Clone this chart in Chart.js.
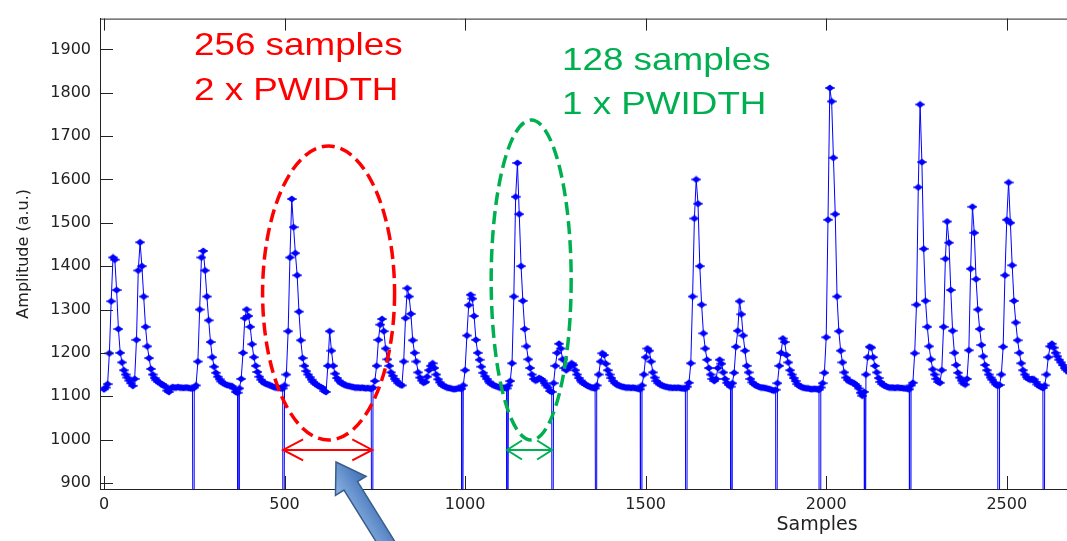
<!DOCTYPE html>
<html>
<head>
<meta charset="utf-8">
<title>Pulse width window</title>
<script src="https://cdn.jsdelivr.net/npm/chart.js@4.4.1/dist/chart.umd.min.js"></script>
<style>
  html, body { margin: 0; padding: 0; background: #fff; overflow: hidden; }
  #wrap { position: relative; width: 1545px; height: 541px; }
</style>
</head>
<body>
<div id="wrap"><canvas id="myChart"></canvas></div>
<script>

// detector readout, one value every 5 samples starting at sample 0
const sampleStep = 5;
const amplitude = [
    1116, 1120, 1128, 1199, 1319, 1420, 1415, 1345, 1255, 1200, 1178, 1160, 1150, 1143, 1136, 1130, 1124, 1140, 1230, 1390,
    1455, 1400, 1330, 1260, 1215, 1188, 1163, 1150, 1142, 1137, 1133, 1130, 1128, 1125, 1122, 1113, 1110, 1118, 1121, 1120,
    1120, 1121, 1120, 1120, 1119, 1120, 1120, 1119, 1118, 1118, 1120, 1125, 1180, 1300, 1420, 1435, 1390, 1330, 1275, 1225,
    1190, 1168, 1154, 1145, 1139, 1134, 1130, 1128, 1126, 1125, 1124, 1123, 1118, 1110, 1108, 1118, 1140, 1200, 1280, 1300,
    1285, 1260, 1220, 1190, 1170, 1156, 1145, 1138, 1133, 1130, 1128, 1127, 1125, 1123, 1121, 1120, 1120, 1119, 1118, 1118,
    1125, 1150, 1250, 1420, 1555, 1490, 1430, 1379, 1295, 1229, 1188, 1170, 1158, 1150, 1144, 1138, 1133, 1129, 1126, 1123,
    1121, 1119, 1112, 1110, 1170, 1250, 1205, 1170, 1152, 1142, 1136, 1132, 1129, 1127, 1125, 1124, 1123, 1122, 1121, 1120,
    1120, 1120, 1119, 1120, 1119, 1118, 1119, 1118, 1117, 1120, 1135, 1170, 1230, 1265, 1278, 1250, 1210, 1185, 1170, 1155,
    1147, 1140, 1135, 1130, 1127, 1125, 1180, 1280, 1349, 1330, 1290, 1229, 1200, 1180, 1155, 1143, 1136, 1131, 1133, 1145,
    1160, 1170, 1176, 1165, 1150, 1139, 1132, 1127, 1124, 1122, 1120, 1119, 1118, 1117, 1116, 1117, 1118, 1118, 1117, 1125,
    1160, 1240, 1310, 1334, 1325, 1285, 1230, 1200, 1184, 1168, 1154, 1146, 1140, 1134, 1130, 1127, 1125, 1123, 1122, 1120,
    1120, 1119, 1119, 1118, 1125, 1135, 1176, 1330, 1560, 1638, 1520, 1400, 1320, 1255, 1215, 1185, 1165, 1150, 1140, 1136,
    1138, 1142, 1140, 1136, 1130, 1125, 1120, 1112, 1110, 1130, 1170, 1200, 1221, 1210, 1185, 1165, 1160, 1165, 1170, 1176,
    1172, 1160, 1150, 1142, 1136, 1132, 1129, 1126, 1124, 1122, 1120, 1119, 1118, 1125, 1150, 1180, 1199, 1195, 1175, 1160,
    1150, 1142, 1135, 1130, 1127, 1125, 1123, 1122, 1121, 1120, 1120, 1120, 1119, 1120, 1119, 1118, 1117, 1116, 1125, 1150,
    1190, 1210, 1205, 1180, 1155, 1143, 1135, 1130, 1127, 1125, 1123, 1122, 1121, 1120, 1120, 1119, 1120, 1119, 1120, 1119,
    1118, 1118, 1117, 1122, 1131, 1176, 1330, 1510, 1600, 1544, 1400, 1311, 1245, 1210, 1184, 1165, 1150, 1140, 1135, 1140,
    1165, 1184, 1175, 1155, 1140, 1131, 1126, 1122, 1130, 1154, 1214, 1251, 1319, 1289, 1240, 1205, 1170, 1155, 1140, 1132,
    1128, 1125, 1123, 1121, 1120, 1120, 1119, 1118, 1117, 1116, 1114, 1113, 1115, 1130, 1170, 1200, 1233, 1225, 1195, 1178,
    1160, 1150, 1142, 1135, 1128, 1124, 1122, 1120, 1119, 1118, 1118, 1117, 1116, 1117, 1117, 1116, 1115, 1120, 1130, 1154,
    1236, 1507, 1811, 1780, 1650, 1520, 1330, 1250, 1205, 1178, 1155, 1143, 1137, 1134, 1132, 1131, 1128, 1124, 1118, 1108,
    1101, 1110, 1150, 1190, 1214, 1212, 1190, 1170, 1155, 1142, 1133, 1128, 1125, 1123, 1121, 1120, 1120, 1120, 1119, 1120,
    1120, 1119, 1119, 1118, 1118, 1117, 1116, 1125, 1131, 1199, 1311, 1582, 1773, 1640, 1440, 1320, 1260, 1215, 1185, 1162,
    1150, 1140, 1133, 1131, 1160, 1260, 1417, 1503, 1454, 1345, 1251, 1200, 1172, 1154, 1143, 1136, 1130, 1127, 1140, 1206,
    1394, 1537, 1477, 1370, 1300, 1255, 1218, 1192, 1172, 1160, 1150, 1143, 1138, 1132, 1127, 1124, 1126, 1150, 1214, 1379,
    1507, 1593, 1500, 1402, 1320, 1270, 1229, 1200, 1176, 1160, 1150, 1144, 1140, 1138, 1140, 1139, 1133, 1127, 1124, 1121,
    1119, 1125, 1150, 1190, 1215, 1221, 1212, 1200, 1192, 1184, 1178, 1172, 1165, 1161, 1157, 1153, 1150
];

// trigger dropouts [first sample, last sample]: the readout falls to zero there
const dropouts = [
    [249, 249], [371, 374], [496, 496], [743, 743], [991, 991], [1116, 1116],
    [1241, 1241], [1364, 1364], [1486, 1489], [1613, 1613], [1736, 1739],
    [1861, 1861], [1981, 1984], [2107, 2107], [2231, 2234], [2476, 2479], [2603, 2603]
];
const dropLevel = 0;

const xTickValues = [0, 500, 1000, 1500, 2000, 2500, 3000, 3500];
const yTickValues = [900, 1000, 1100, 1200, 1300, 1400, 1500, 1600, 1700, 1800, 1900];

// the two windows that get marked: [from sample, to sample]
const wideWindow = [496, 743];
const narrowWindow = [1116, 1241];

const axisColor = '#222222';
const traceColor = '#0000ff';
const tickFont = { family: '"DejaVu Sans"', size: 16 };

function buildPoints() {
    const pts = amplitude.map((v, i) => ({ x: i * sampleStep, y: v }));
    dropouts.forEach(([a, b]) => {
        pts.push({ x: a, y: dropLevel });
        pts.push({ x: b, y: dropLevel });
    });
    pts.sort((p, q) => p.x - q.x);
    return pts;
}

// flat diamond with a crossbar, like the 'd' marker of the original plot
function makeMarker() {
    const c = document.createElement('canvas');
    c.width = 10;
    c.height = 8;
    const g = c.getContext('2d');
    g.fillStyle = traceColor;
    g.beginPath();
    g.moveTo(0.5, 4);
    g.lineTo(5, 0.5);
    g.lineTo(9.5, 4);
    g.lineTo(5, 7.5);
    g.closePath();
    g.fill();
    g.fillRect(0, 3.5, 10, 1);
    return c;
}

// box top edge and inward tick marks, matlab style
const frame = {
    id: 'frame',
    afterDatasetsDraw(chart) {
        const { ctx, chartArea: a, scales: { x, y } } = chart;
        ctx.save();
        ctx.strokeStyle = axisColor;
        ctx.lineWidth = 1;
        ctx.beginPath();
        ctx.moveTo(a.left, a.top + 0.5);
        ctx.lineTo(a.right, a.top + 0.5);
        x.ticks.forEach(t => {
            const px = Math.round(x.getPixelForValue(t.value)) + 0.5;
            ctx.moveTo(px, a.bottom);
            ctx.lineTo(px, a.bottom - 13);
            ctx.moveTo(px, a.top);
            ctx.lineTo(px, a.top + 12);
        });
        y.ticks.forEach(t => {
            const py = Math.round(y.getPixelForValue(t.value)) + 0.5;
            ctx.moveTo(a.left, py);
            ctx.lineTo(a.left + 13, py);
        });
        ctx.stroke();
        ctx.restore();
    }
};

function dashedEllipse(ctx, cx, cy, rx, ry, color) {
    ctx.save();
    ctx.strokeStyle = color;
    ctx.lineWidth = 3.5;
    ctx.setLineDash([13, 6]);
    ctx.beginPath();
    ctx.ellipse(cx, cy, rx, ry, 0, 0, Math.PI * 2);
    ctx.stroke();
    ctx.restore();
}

function doubleArrow(ctx, x1, x2, yy, color, headLen, headHalf) {
    ctx.save();
    ctx.strokeStyle = color;
    ctx.lineWidth = 2;
    ctx.beginPath();
    ctx.moveTo(x1, yy);
    ctx.lineTo(x2, yy);
    ctx.moveTo(x1 + headLen, yy - headHalf);
    ctx.lineTo(x1, yy);
    ctx.lineTo(x1 + headLen, yy + headHalf);
    ctx.moveTo(x2 - headLen, yy - headHalf);
    ctx.lineTo(x2, yy);
    ctx.lineTo(x2 - headLen, yy + headHalf);
    ctx.stroke();
    ctx.restore();
}

function wideText(ctx, str, x, baseline, color) {
    ctx.save();
    ctx.translate(x, baseline);
    ctx.scale(1.15, 1);
    ctx.font = '32px "Liberation Sans"';
    ctx.fillStyle = color;
    ctx.textBaseline = 'alphabetic';
    ctx.fillText(str, 0, 0);
    ctx.restore();
}

function blockArrow(ctx, tail, tip, shaftHalf, headHalf, headLen) {
    const dx = tip[0] - tail[0], dy = tip[1] - tail[1];
    const len = Math.hypot(dx, dy);
    const ux = dx / len, uy = dy / len;
    const nx = -uy, ny = ux;
    const bx = tip[0] - ux * headLen, by = tip[1] - uy * headLen;
    const pts = [
        [tail[0] + nx * shaftHalf, tail[1] + ny * shaftHalf],
        [bx + nx * shaftHalf, by + ny * shaftHalf],
        [bx + nx * headHalf, by + ny * headHalf],
        tip,
        [bx - nx * headHalf, by - ny * headHalf],
        [bx - nx * shaftHalf, by - ny * shaftHalf],
        [tail[0] - nx * shaftHalf, tail[1] - ny * shaftHalf]
    ];
    const g = ctx.createLinearGradient(bx + nx * headHalf, by + ny * headHalf, bx - nx * headHalf, by - ny * headHalf);
    g.addColorStop(0, '#3d6fb6');
    g.addColorStop(1, '#8fb4e3');
    ctx.save();
    ctx.beginPath();
    pts.forEach(([px, py], i) => i ? ctx.lineTo(px, py) : ctx.moveTo(px, py));
    ctx.closePath();
    ctx.fillStyle = g;
    ctx.fill();
    ctx.strokeStyle = '#385d8a';
    ctx.lineWidth = 1.5;
    ctx.stroke();
    ctx.restore();
}

const callouts = {
    id: 'callouts',
    afterDraw(chart) {
        const { ctx, scales: { x, y } } = chart;
        const red = '#ff0000', green = '#00b050';

        dashedEllipse(ctx, x.getPixelForValue(622), y.getPixelForValue(1338), 66, 147, red);
        dashedEllipse(ctx, x.getPixelForValue(1183), y.getPixelForValue(1368), 40, 160, green);

        const ay = y.getPixelForValue(976);
        doubleArrow(ctx, x.getPixelForValue(wideWindow[0]), x.getPixelForValue(wideWindow[1]), ay, red, 20, 10.5);
        doubleArrow(ctx, x.getPixelForValue(narrowWindow[0]), x.getPixelForValue(narrowWindow[1]), ay, green, 15, 9.5);

        wideText(ctx, '256 samples', 194, 55, red);
        wideText(ctx, '2 x PWIDTH', 194, 100, red);
        wideText(ctx, '128 samples', 562, 70, green);
        wideText(ctx, '1 x PWIDTH', 562, 113.5, green);

        blockArrow(ctx, [400, 565], [336, 462], 8, 18, 28);
    }
};

const ctx = document.getElementById('myChart').getContext('2d');
const chart = new Chart(ctx, {
    type: 'line',
    data: {
        datasets: [{
            data: buildPoints(),
            borderColor: traceColor,
            borderWidth: 1,
            pointStyle: makeMarker(),
            pointRadius: 4,
            tension: 0
        }]
    },
    options: {
        responsive: true,
        maintainAspectRatio: false,
        animation: false,
        layout: { padding: { top: 7, right: 11, left: 0, bottom: 0 } },
        plugins: { legend: { display: false }, tooltip: { enabled: false } },
        scales: {
            x: {
                type: 'linear',
                min: -11,
                max: 3960,
                afterFit(s) { s.height = 52; },
                afterBuildTicks(s) { s.ticks = xTickValues.map(v => ({ value: v })); },
                grid: { display: false, drawTicks: false, tickLength: 0 },
                border: { display: true, color: axisColor, width: 1 },
                ticks: { font: tickFont, color: axisColor, padding: 6, maxRotation: 0, autoSkip: false, callback: v => String(v) },
                title: {
                    display: true, text: 'Samples', color: axisColor,
                    font: { family: '"DejaVu Sans"', size: 19 },
                    padding: { top: 0, bottom: 5 }
                }
            },
            y: {
                min: 886,
                max: 1971,
                afterFit(s) { s.width = 100; },
                afterBuildTicks(s) { s.ticks = yTickValues.map(v => ({ value: v })); },
                grid: { display: false, drawTicks: false, tickLength: 0 },
                border: { display: true, color: axisColor, width: 1 },
                ticks: { font: tickFont, color: axisColor, padding: 9, autoSkip: false, callback: v => String(v) },
                title: {
                    display: true, text: 'Amplitude (a.u.)', color: axisColor,
                    font: { family: '"DejaVu Sans"', size: 16 },
                    padding: { top: 14, bottom: 0 }
                }
            }
        }
    },
    plugins: [frame, callouts]
});
</script>
</body>
</html>
